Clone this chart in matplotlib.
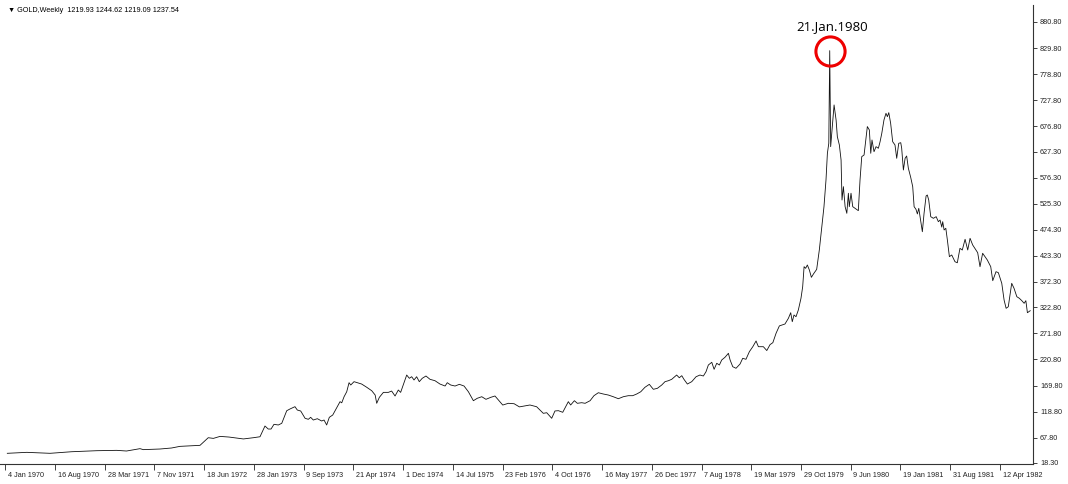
import matplotlib
matplotlib.use("Agg")
import matplotlib.pyplot as plt
import matplotlib.transforms as mtransforms

# weekly gold closes (week offset from 4 Jan 1970, price)
weeks = [
    1.3, 13.8, 28.8, 42.7, 58.8, 71.7, 78.0, 86.7, 88.8, 99.5, 107.0, 112.4, 125.3,
    130.6, 133.9, 138.2, 144.0, 153.2, 159.6, 163.9,
    167.1, 169.2, 171.0, 172.9, 175.7, 177.9, 181.1, 183.2, 186.4, 187.9, 190.1,
    192.9, 195.0, 196.5, 198.2, 200.8, 203.6, 205.1, 206.8, 208.5, 210.7, 213.3,
    215.4, 216.5, 218.0, 219.7, 221.2, 222.3, 224.4, 226.5, 229.3, 232.6, 235.8,
    238.0, 239.0, 240.7, 243.3, 246.5, 248.6, 250.8, 252.9, 254.4, 256.6, 258.3,
    260.0, 261.5, 263.0, 264.7, 266.4, 268.3, 270.7, 273.3, 276.5, 279.7, 283.0,
    284.4, 286.6, 289.4, 292.2, 295.2, 298.0, 301.2, 303.7, 306.6, 309.3, 312.4,
    315.1, 317.3, 320.1, 323.7, 327.4, 330.8, 334.4,
    337.6, 341.9, 346.2, 348.4, 351.6, 353.7, 355.9, 358.7, 362.3, 363.8, 366.2,
    368.1, 370.9, 373.1, 376.3, 378.8, 381.6, 384.8, 388.0, 391.2, 394.5, 397.7,
    400.9, 403.7, 406.3, 408.9, 411.6, 414.4, 417.0, 419.6, 422.4, 424.5, 426.7,
    428.8, 432.0, 433.7, 435.3, 436.7, 438.9, 441.7, 444.5, 447.0, 449.2, 450.9,
    452.4, 454.6, 456.1, 457.8, 459.5, 461.0, 463.1, 465.3, 466.4, 468.1, 470.2,
    472.8, 474.5, 476.6, 478.8, 481.0, 483.1, 484.6, 487.8, 490.0, 492.1, 493.9,
    496.0, 498.1,
    501.7, 503.9, 505.4, 506.4, 507.5, 508.8, 510.3, 512.0, 513.1, 514.0, 515.0,
    516.1, 517.4, 518.7, 520.0, 522.1, 523.8, 525.4, 526.8, 528.1, 529.0, 529.9,
    530.5, 531.1, 532.5, 533.3, 534.6, 535.4, 536.7, 537.8, 538.4, 539.3, 540.4,
    541.5, 542.5, 543.1, 544.2, 545.3, 546.8, 548.9, 550.0, 551.1, 552.6, 554.7,
    556.0, 556.9, 557.7, 559.0, 560.3, 561.8, 562.9, 564.0, 565.4, 566.7, 567.6,
    568.5, 569.7, 571.0, 572.5, 573.6, 574.9, 576.2,
    576.8, 577.9, 579.0, 580.0, 581.1, 582.6, 583.9, 584.8, 586.0, 586.9, 587.8,
    589.1, 590.1, 591.2, 592.5, 593.3, 594.2, 595.5, 597.2, 599.0, 600.4, 601.5,
    602.6, 603.2, 604.1, 605.2, 606.2, 607.5, 609.0, 611.1, 612.6, 614.3, 615.8,
    617.6, 619.3, 620.8, 622.5, 624.6, 625.7, 627.2, 628.9, 630.4, 631.9, 634.1,
    635.4, 637.5, 639.0, 641.2, 642.7, 644.0, 645.4, 647.6, 649.1, 650.9, 652.5,
    654.1, 655.6, 656.7, 657.7, 659.5,
]
prices = [
    37.2, 39.1, 37.2, 40.3, 42.3, 43.0, 41.7, 46.3, 44.4, 45.6, 47.6, 50.8, 52.8,
    67.7, 66.4, 70.3, 69.0, 65.3, 67.7, 69.6,
    90.6, 84.7, 84.7, 93.9, 92.6, 95.9, 120.5, 123.9, 128.4, 121.9, 119.9,
    105.7, 103.7, 107.6, 102.3, 104.9, 100.4, 102.3, 92.6, 107.6, 112.1, 126.4,
    138.2, 136.0, 147.9, 157.6, 175.3, 170.8, 177.3, 175.3, 172.7, 166.3, 159.6,
    151.2, 135.0, 146.7, 156.4, 156.4, 159.0, 149.3, 161.0, 156.4, 175.3, 190.3,
    183.9, 187.0, 180.6, 187.0, 177.3, 183.9, 188.4, 181.9, 179.2, 172.7, 168.8,
    175.3, 170.8, 168.8, 172.1, 168.8, 157.6, 140.1, 144.8, 147.9, 142.8, 146.7,
    149.3, 141.5, 131.6, 135.0, 134.2, 128.0, 130.0,
    131.7, 128.3, 115.4, 116.6, 105.7, 120.0, 120.6, 117.4, 138.2, 131.7, 140.1,
    135.0, 136.2, 135.0, 140.1, 149.9, 155.7, 153.2, 151.2, 147.9, 144.0, 147.9,
    149.9, 149.9, 153.2, 157.6, 166.3, 172.1, 162.4, 164.3, 170.8, 177.3, 179.2,
    181.9, 190.3, 185.0, 189.0, 181.9, 172.7, 177.3, 187.0, 190.3, 188.4, 196.8,
    209.9, 215.2, 201.5, 213.3, 209.9, 219.7, 225.0, 232.8, 219.7, 206.6, 203.5,
    211.9, 223.0, 221.1, 236.0, 245.7, 256.9, 245.7, 245.7, 238.2, 249.8, 253.6,
    272.2, 286.4,
    290.1, 301.2, 312.2, 294.6, 307.7, 304.4, 317.5, 340.4, 363.1, 402.2, 399.0,
    405.5, 395.7, 381.4, 387.8, 397.0, 434.8, 480.4, 519.6, 571.8, 624.0, 643.5,
    824.7, 637.0, 689.1, 718.5, 689.0, 656.5, 640.2, 610.9, 532.6, 558.7, 519.6,
    506.6, 545.8, 519.6, 545.8, 519.6, 516.4, 511.8, 571.8, 617.4, 620.7, 676.2,
    669.6, 624.0, 650.0, 627.1, 636.9, 633.8, 646.7, 663.1, 689.1, 702.2, 695.6,
    703.5, 682.6, 646.7, 640.2, 614.2, 643.5, 644.7,
    633.8, 591.3, 614.2, 618.7, 594.6, 577.0, 558.7, 519.6, 514.4, 505.3, 516.4,
    490.2, 470.6, 506.6, 540.5, 542.4, 532.6, 500.0, 496.8, 500.0, 490.2, 493.4,
    479.6, 490.2, 474.0, 477.3, 454.4, 421.8, 425.1, 411.9, 409.9, 438.1, 434.8,
    455.8, 434.8, 457.7, 444.6, 434.8, 429.6, 402.2, 428.4, 421.8, 415.3, 402.2,
    374.8, 392.4, 390.5, 369.7, 337.0, 320.8, 323.9, 369.7, 359.9, 343.5, 340.4,
    335.7, 330.6, 335.7, 312.2, 316.1,
]

date_labels = ["4 Jan 1970", "16 Aug 1970", "28 Mar 1971", "7 Nov 1971", "18 Jun 1972",
               "28 Jan 1973", "9 Sep 1973", "21 Apr 1974", "1 Dec 1974", "14 Jul 1975",
               "23 Feb 1976", "4 Oct 1976", "16 May 1977", "26 Dec 1977", "7 Aug 1978",
               "19 Mar 1979", "29 Oct 1979", "9 Jun 1980", "19 Jan 1981", "31 Aug 1981",
               "12 Apr 1982"]
date_weeks = [32 * i for i in range(len(date_labels))]
price_ticks = [18.30, 67.80, 118.80, 169.80, 220.80, 271.80, 322.80, 372.30, 423.30,
               474.30, 525.30, 576.30, 627.30, 676.80, 727.80, 778.80, 829.80, 880.80]

title = "\u25bc GOLD,Weekly  1219.93 1244.62 1219.09 1237.54"
peak_label = "21.Jan.1980"

font = "Liberation Sans"
fig = plt.figure(figsize=(10.68, 4.84), dpi=100)
ax = fig.add_axes([0, 20 / 484, 1033 / 1068, 459 / 484])

ax.plot(weeks, prices, color="#111111", lw=0.6)

ax.set_xlim(-3.4, 661.3)
ax.set_ylim(16.3, 914.0)

for s in ["top", "left"]:
    ax.spines[s].set_visible(False)
for s in ["bottom", "right"]:
    ax.spines[s].set_linewidth(0.8)
    ax.spines[s].set_color("#333333")

ax.yaxis.tick_right()
ax.set_yticks(price_ticks)
ax.set_yticklabels(["%.2f" % v for v in price_ticks], fontsize=5.2, family=font)
ax.tick_params(axis="y", length=3, width=0.6, pad=2, colors="#222222")

ax.set_xticks(date_weeks)
ax.set_xticklabels(date_labels, fontsize=5.2, family=font)
ax.tick_params(axis="x", length=4, width=0.6, pad=1.5, colors="#222222")
shift = mtransforms.ScaledTranslation(2 / 72, 0, fig.dpi_scale_trans)
for lbl in ax.get_xticklabels():
    lbl.set_horizontalalignment("left")
    lbl.set_transform(lbl.get_transform() + shift)

# peak marker
pk = prices.index(max(prices))
ax.plot(weeks[pk], prices[pk] - 1, marker="o", ms=21, mfc="none", mec="#ee0000", mew=2.2)
ax.annotate(peak_label, xy=(weeks[pk], prices[pk]), xytext=(2, 17), textcoords="offset points",
            ha="center", va="center", fontsize=9.5, family="Open Sans")

fig.text(8 / 1068, 1 - 10 / 484, title, fontsize=5.2, va="center", family=["Liberation Sans", "DejaVu Sans"])

fig.savefig("out.png", dpi=100)
